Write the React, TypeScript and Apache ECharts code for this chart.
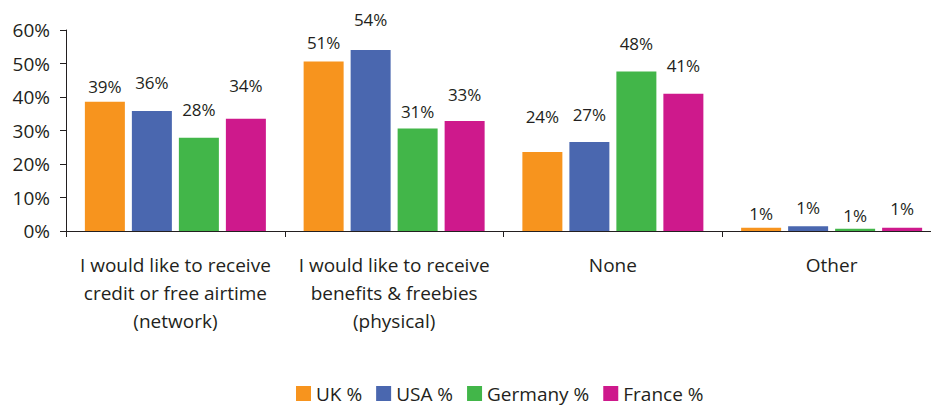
import React, { useEffect, useRef } from "react";
import * as echarts from "echarts";

const categories = [
  "I would like to receive\ncredit or free airtime\n(network)",
  "I would like to receive\nbenefits & freebies\n(physical)",
  "None",
  "Other",
];
const seriesNames = ["UK %", "USA %", "Germany %", "France %"];
const ukValues = [38.6, 50.6, 23.6, 1.0];
const usaValues = [35.8, 54.0, 26.6, 1.4];
const germanyValues = [27.8, 30.6, 47.6, 0.7];
const franceValues = [33.5, 32.8, 41.0, 1.0];
const yTicks = [0, 10, 20, 30, 40, 50, 60];

// label lift above bar top (styling only)
const labelLifts = [
  [15, 19, 35, 14],
  [29, 31, 27, 19],
  [28, 17, 28, 13],
  [33, 27, 28, 19],
];
const colors = ["#F7941E", "#4A67AF", "#42B649", "#CE198C"];

const FONT = "'Open Sans', 'Noto Sans', sans-serif";

export default function App() {
  const ref = useRef<HTMLDivElement>(null);
  useEffect(() => {
    if (!ref.current) return;
    const chart = echarts.init(ref.current, null, { renderer: "svg" });
    const all = [ukValues, usaValues, germanyValues, franceValues];
    const series = all.map((vals, si) => ({
      name: seriesNames[si],
      type: "bar",
      barWidth: 40,
      barGap: "17.5%",
      itemStyle: { color: colors[si] },
      label: {
        show: true,
        position: "top",
        fontFamily: FONT,
        fontSize: 17,
        lineHeight: 18,
        color: "#231F20",
        formatter: (p: any) => Math.round(p.value) + "%",
      },
      data: vals.map((v, i) => ({
        value: v,
        label: { distance: labelLifts[si][i] - 9 },
      })),
    }));
    chart.setOption({
      animation: false,
      grid: { left: 66, top: 30, right: 0, bottom: 177, containLabel: false },
      legend: {
        data: seriesNames,
        top: 384,
        left: 296,
        itemWidth: 15,
        itemHeight: 15,
        itemGap: 14,
        icon: "rect",
        padding: 0,
        textStyle: { fontFamily: FONT, fontSize: 19, lineHeight: 19, color: "#231F20" },
      },
      xAxis: {
        type: "category",
        data: categories,
        axisLine: { lineStyle: { color: "#231F20", width: 1 } },
        axisTick: { show: true, length: 6, alignWithLabel: false, lineStyle: { color: "#231F20" } },
        axisLabel: {
          fontFamily: FONT,
          fontSize: 19,
          lineHeight: 28,
          color: "#231F20",
          margin: 20,
          interval: 0,
        },
      },
      yAxis: {
        type: "value",
        min: 0,
        max: 60,
        interval: 10,
        axisLine: { show: true, lineStyle: { color: "#231F20" } },
        axisTick: { show: true, length: 6, lineStyle: { color: "#231F20" } },
        splitLine: { show: false },
        axisLabel: {
          fontFamily: FONT,
          fontSize: 19,
          color: "#231F20",
          margin: 16,
          formatter: (v: number) => (yTicks.includes(v) ? v + "%" : ""),
        },
      },
      series,
    });
    return () => chart.dispose();
  }, []);
  return (
    <div style={{ position: "absolute", left: 0, top: 0, width: 931, height: 408, overflow: "hidden" }}>
      <div ref={ref} style={{ width: 941, height: 408 }} />
    </div>
  );
}
